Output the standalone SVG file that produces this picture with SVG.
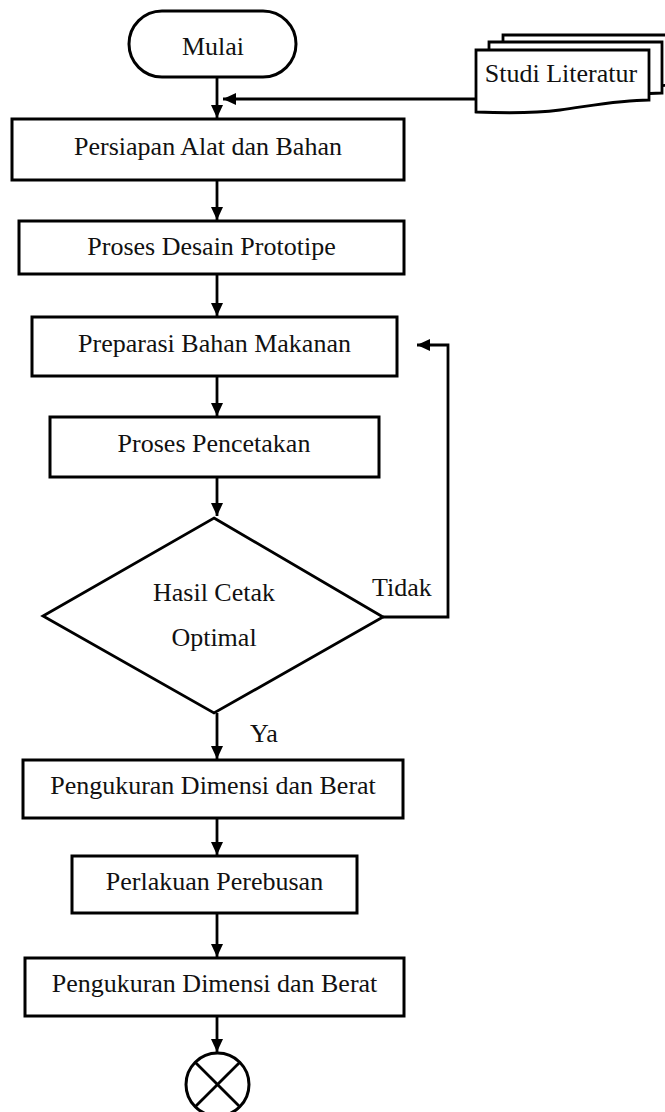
<svg xmlns="http://www.w3.org/2000/svg" width="665" height="1112" viewBox="0 0 665 1112">
<style>
  .box { fill: #fff; stroke: #000; stroke-width: 3; }
  .shape { fill: #fff; stroke: #000; stroke-width: 2.8; stroke-linejoin: miter; }
  .lbl { font-family: "Liberation Serif", "Times New Roman", serif; font-size: 26px; fill: #111; text-anchor: middle; }
  .lblL { font-family: "Liberation Serif", "Times New Roman", serif; font-size: 26px; fill: #111; }
  .conn { fill: none; stroke: #000; stroke-width: 2.8; }
</style>
<defs>
  <marker id="arr" markerUnits="userSpaceOnUse" markerWidth="14" markerHeight="13" refX="13" refY="6" orient="auto">
    <path d="M0,0 L13,6 L0,12 Z" fill="#000"/>
  </marker>
</defs>
<rect width="665" height="1112" fill="#fff"/>

<g id="connectors">
  <line class="conn" x1="217" y1="77" x2="217" y2="118" marker-end="url(#arr)"/>
  <line class="conn" x1="476" y1="99" x2="223" y2="99" marker-end="url(#arr)"/>
  <line class="conn" x1="217" y1="180" x2="217" y2="220" marker-end="url(#arr)"/>
  <line class="conn" x1="217" y1="274" x2="217" y2="316" marker-end="url(#arr)"/>
  <line class="conn" x1="217" y1="376" x2="217" y2="416" marker-end="url(#arr)"/>
  <line class="conn" x1="217" y1="477" x2="217" y2="516" marker-end="url(#arr)"/>
  <polyline class="conn" points="383,617 448,617 448,345 417,345" marker-end="url(#arr)"/>
  <line class="conn" x1="217" y1="713" x2="217" y2="759" marker-end="url(#arr)"/>
  <line class="conn" x1="217" y1="818" x2="217" y2="855" marker-end="url(#arr)"/>
  <line class="conn" x1="217" y1="913" x2="217" y2="957" marker-end="url(#arr)"/>
  <line class="conn" x1="217" y1="1016" x2="217" y2="1052" marker-end="url(#arr)"/>
  <text class="lblL" x="372" y="596">Tidak</text>
  <text class="lblL" x="250" y="742">Ya</text>
</g>

<g id="mulai">
  <rect class="box" x="129" y="11" width="167" height="66" rx="33" ry="33"/>
  <text class="lbl" x="213" y="55">Mulai</text>
</g>

<g id="studi-literatur">
  <path class="shape" d="M503,35 H676 V85 C647,85 617,91 587,95 C557,99 527,98 503,97 Z"/>
  <path class="shape" d="M489,42 H662 V93 C633,93 603,99 573,103 C543,107 513,106 489,105 Z"/>
  <path class="shape" d="M476,50 H649 V100 C620,100 590,106 560,110 C530,114 500,113 476,112 Z"/>
  <text class="lbl" x="561" y="82">Studi Literatur</text>
</g>

<g id="persiapan">
  <rect class="box" x="12" y="119" width="392" height="61"/>
  <text class="lbl" x="208" y="155">Persiapan Alat dan Bahan</text>
</g>

<g id="desain">
  <rect class="box" x="19" y="221" width="385" height="53"/>
  <text class="lbl" x="211.5" y="255">Proses Desain Prototipe</text>
</g>

<g id="preparasi">
  <rect class="box" x="32" y="317" width="365" height="59"/>
  <text class="lbl" x="214.5" y="352">Preparasi Bahan Makanan</text>
</g>

<g id="pencetakan">
  <rect class="box" x="50" y="417" width="329" height="60"/>
  <text class="lbl" x="214" y="452">Proses Pencetakan</text>
</g>

<g id="keputusan">
  <polygon class="shape" points="214,518 383,617 214,713 43,616"/>
  <text class="lbl" x="214" y="601">Hasil Cetak</text>
  <text class="lbl" x="214" y="646">Optimal</text>
</g>

<g id="pengukuran1">
  <rect class="box" x="23" y="760" width="380" height="58"/>
  <text class="lbl" x="213" y="794">Pengukuran Dimensi dan Berat</text>
</g>

<g id="perebusan">
  <rect class="box" x="72" y="856" width="285" height="57"/>
  <text class="lbl" x="214.5" y="890">Perlakuan Perebusan</text>
</g>

<g id="pengukuran2">
  <rect class="box" x="25" y="958" width="379" height="58"/>
  <text class="lbl" x="214.5" y="992">Pengukuran Dimensi dan Berat</text>
</g>

<g id="selesai">
  <circle class="box" cx="217.5" cy="1084.5" r="31.5"/>
  <line class="conn" x1="195.2" y1="1062.2" x2="239.8" y2="1106.8"/>
  <line class="conn" x1="239.8" y1="1062.2" x2="195.2" y2="1106.8"/>
</g>
</svg>
